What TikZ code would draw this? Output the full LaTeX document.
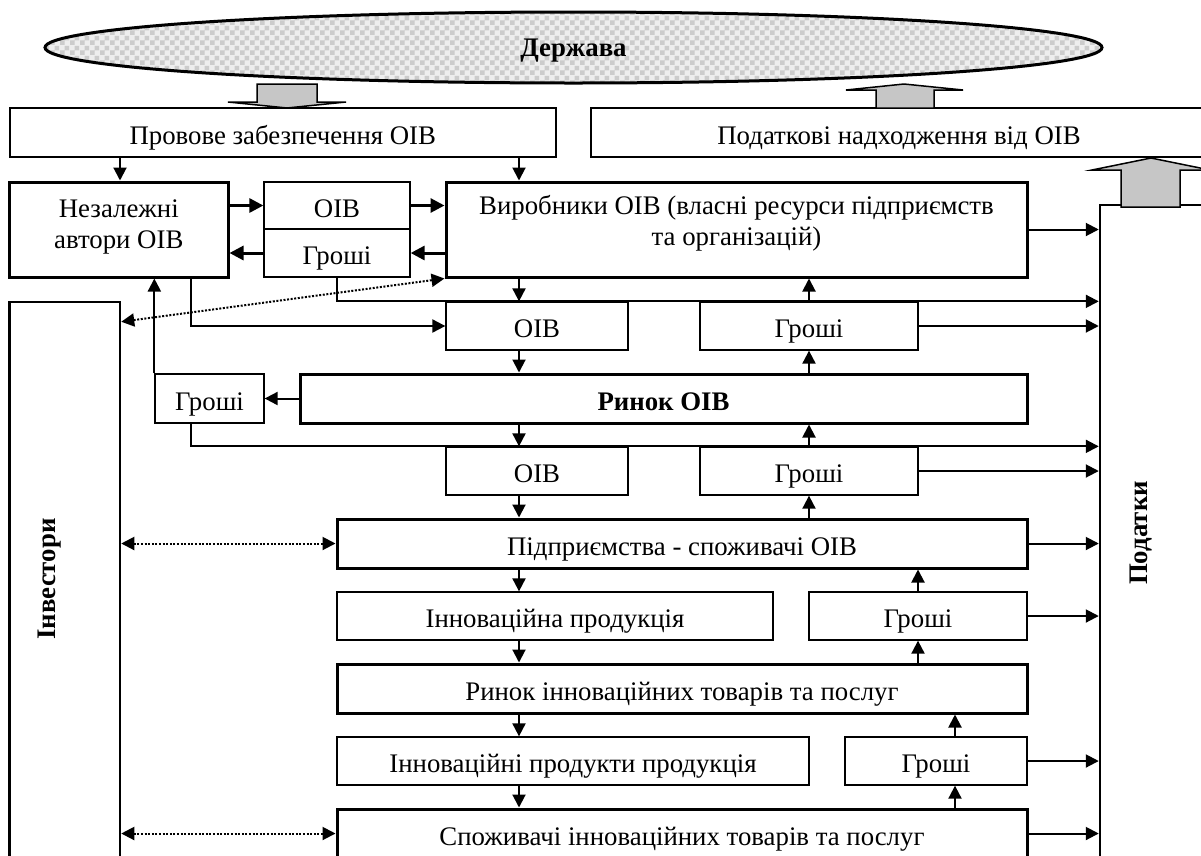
\documentclass[tikz,border=0pt]{standalone}
\usepackage{fontspec}
\setmainfont{Liberation Serif}
\usetikzlibrary{arrows.meta,shapes.geometric,patterns,calc}
\pgfdeclarepatternformonly{mychecker}{\pgfpointorigin}{\pgfpoint{10pt}{10pt}}{\pgfpoint{10pt}{10pt}}{%
  \pgfpathrectangle{\pgfpointorigin}{\pgfpoint{5pt}{5pt}}%
  \pgfpathrectangle{\pgfpoint{5pt}{5pt}}{\pgfpoint{5pt}{5pt}}%
  \pgfusepath{fill}}
\begin{document}
\begin{tikzpicture}[x=1pt,y=-1pt,
  font=\fontsize{26.8}{31}\selectfont,
  bx/.style={draw, line width=1.3pt, inner sep=0pt, text height=23pt, text depth=0pt},
  bxm/.style={bx, line width=2pt},
  bxt/.style={bx, line width=3pt},
  tip/.tip={Triangle[length=13pt,width=13pt]},
  arr/.style={line width=2pt, -tip},
  arrb/.style={line width=3pt, -{Triangle[length=14pt,width=14pt]}},
  dots/.style={line width=2pt, dash pattern=on 2pt off 1.6pt, tip-tip},
  blk/.style={draw, line width=1.5pt, fill=gray!45, line join=miter},
  rot/.style={rotate=90, font=\fontsize{26.8}{31}\selectfont\bfseries, text height=17.5pt, text depth=0pt, inner sep=0pt}]
\useasboundingbox (0,0) rectangle (1201,855);

% columns
\coordinate (cA) at (120,0);
\coordinate (cB) at (191,0);
\coordinate (cL) at (519,0);
\coordinate (cR3) at (955,0);

% state
\node[ellipse, draw, line width=3pt, minimum width=1057pt, minimum height=71pt, inner sep=0pt,
  preaction={fill=gray!13}, pattern=mychecker, pattern color=gray!40,
  font=\fontsize{26.8}{31}\selectfont\bfseries, text height=17pt, text depth=0pt] (state) at (573.5,47.5) {Держава};

% boxes
\node[bxm, minimum width=546.4pt, minimum height=49pt] (prov) at (282.8,132.5) {Провове забезпечення ОІВ};
\node[bxm, minimum width=616pt, minimum height=49pt] (podat) at (899,132.5) {Податкові надходження від ОІВ};
\node[bxt, minimum width=218.4pt, minimum height=95pt] (avt) at (118.8,229.5) {};
\node[anchor=base, align=center, inner sep=0pt] (avtt) at (118.8,248) {Незалежні\\автори ОІВ};
\node[bx, minimum width=146pt, minimum height=47pt] (oib1) at (337,205.5) {ОІВ};
\node[bx, minimum width=146pt, minimum height=48pt] (gr1) at (337,253) {Гроші};
\node[bxt, minimum width=581pt, minimum height=95pt] (vyr) at (736.5,229.5) {};
\node[anchor=base, align=center, inner sep=0pt] (vyrt) at (736.5,245) {Виробники ОІВ (власні ресурси підприємств\\та організацій)};
\node[bx, minimum width=182pt, minimum height=48pt] (oib2) at (537,326) {ОІВ};
\node[bx, minimum width=218pt, minimum height=48pt] (gr2) at (809,326) {Гроші};
\node[bxt, minimum width=727pt, minimum height=49pt, font=\fontsize{26.8}{31}\selectfont\bfseries] (rynok) at (663.5,398.5) {Ринок ОІВ};
\node[bx, minimum width=109pt, minimum height=49pt] (grL) at (209.5,398.5) {Гроші};
\node[bx, minimum width=182pt, minimum height=48pt] (oib3) at (537,471) {ОІВ};
\node[bx, minimum width=218pt, minimum height=48pt] (gr3) at (809,471) {Гроші};
\node[bxt, minimum width=690pt, minimum height=49pt] (pidpr) at (682,543.5) {Підприємства - споживачі ОІВ};
\node[bx, minimum width=436pt, minimum height=48pt] (innprod) at (555,616) {Інноваційна продукція};
\node[bx, minimum width=218pt, minimum height=48pt] (gr4) at (918,616) {Гроші};
\node[bxt, minimum width=690pt, minimum height=49pt] (rynokinn) at (682,688.5) {Ринок інноваційних товарів та послуг};
\node[bx, minimum width=472pt, minimum height=48pt] (innprod2) at (573,761) {Інноваційні продукти продукція};
\node[bx, minimum width=182pt, minimum height=48pt] (gr5) at (936,761) {Гроші};
\node[bxt, minimum width=690pt, minimum height=49pt] (spoz) at (682,833.5) {Споживачі інноваційних товарів та послуг};
\node[bxm, line width=2.5pt, minimum width=110.4pt, minimum height=598pt] (inv) at (64.8,601) {};
\node[rot] (invt) at (47,579) {Інвестори};
\node[bxm, line width=2.5pt, minimum width=120pt, minimum height=695pt] (podatky) at (1160,552.5) {};
\node[rot] (podt) at (1139,533) {Податки};

% block arrows
\draw[blk] (257,84) -- (317,84) -- (317,102) -- (346,102) -- (287,108) -- (228,102) -- (257,102) -- cycle;
\draw[blk] (876,108) -- (876,90) -- (846,90) -- (904,84) -- (963,90) -- (934,90) -- (934,108) -- cycle;
\draw[blk] (1121,207) -- (1121,170) -- (1092,170) -- (1151,158) -- (1210,170) -- (1180,170) -- (1180,207) -- cycle;

% connectors
\draw[arr] (cA |- prov.south) -- (cA |- avt.north);
\draw[arr] (cL |- prov.south) -- (cL |- vyr.north);
\draw[arrb] (oib1.west -| avt.east) -- (oib1.west);
\draw[arrb] (oib1.east) -- (oib1.east -| vyr.west);
\draw[arrb] (gr1.east -| vyr.west) -- (gr1.east);
\draw[arrb] (gr1.west) -- (gr1.west -| avt.east);
\draw[dots] ($(inv.north east)+(0,21)$) -- (vyr.south west);
\draw[arr] (cB |- avt.south) -- (cB |- oib2.west) -- (oib2.west);
\draw[arr] (gr1.south) -- (gr1.south |- oib2.north) -- (oib2.north -| podatky.west);
\draw[arr] (vyr.east) -- (vyr.east -| podatky.west);
\draw[arr] (cL |- vyr.south) -- (cL |- oib2.north);
\draw[arr] (gr2.north) -- (gr2.north |- vyr.south);
\draw[arr] (gr2.east) -- (gr2.east -| podatky.west);
\draw[arr] (cL |- oib2.south) -- (cL |- rynok.north);
\draw[arr] (gr2.south |- rynok.north) -- (gr2.south);
\draw[arr] (rynok.west) -- (grL.east);
\draw[arr] (grL.north west) -- (grL.north west |- avt.south);
\draw[arr] (cB |- grL.south) -- (cB |- oib3.north) -- (oib3.north -| podatky.west);
\draw[arr] (cL |- rynok.south) -- (cL |- oib3.north);
\draw[arr] (gr3.north) -- (gr3.north |- rynok.south);
\draw[arr] (gr3.east) -- (gr3.east -| podatky.west);
\draw[arr] (cL |- oib3.south) -- (cL |- pidpr.north);
\draw[arr] (gr3.south |- pidpr.north) -- (gr3.south);
\draw[dots] (pidpr.west -| inv.east) -- (pidpr.west);
\draw[arr] (pidpr.east) -- (pidpr.east -| podatky.west);
\draw[arr] (cL |- pidpr.south) -- (cL |- innprod.north);
\draw[arr] (gr4.north) -- (gr4.north |- pidpr.south);
\draw[arr] (gr4.east) -- (gr4.east -| podatky.west);
\draw[arr] (cL |- innprod.south) -- (cL |- rynokinn.north);
\draw[arr] (gr4.south |- rynokinn.north) -- (gr4.south);
\draw[arr] (cL |- rynokinn.south) -- (cL |- innprod2.north);
\draw[arr] (cR3 |- gr5.north) -- (cR3 |- rynokinn.south);
\draw[arr] (gr5.east) -- (gr5.east -| podatky.west);
\draw[arr] (cL |- innprod2.south) -- (cL |- spoz.north);
\draw[arr] (cR3 |- spoz.north) -- (cR3 |- gr5.south);
\draw[dots] (spoz.west -| inv.east) -- (spoz.west);
\draw[arr] (spoz.east) -- (spoz.east -| podatky.west);
\end{tikzpicture}
\end{document}
